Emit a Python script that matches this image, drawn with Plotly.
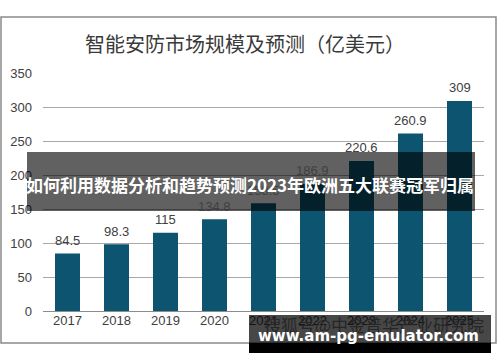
import plotly.graph_objects as go

years = ["2017", "2018", "2019", "2020", "2021", "2022", "2023", "2024", "2025"]
values = [84.5, 98.3, 115, 134.8, 158.5, 186.9, 220.6, 260.9, 309]
value_labels = ["84.5", "98.3", "115", "134.8", "158.5", "186.9", "220.6", "260.9", "309"]
y_ticks = [0, 50, 100, 150, 200, 250, 300, 350]

title_text = "智能安防市场规模及预测（亿美元）"
banner_text = "如何利用数据分析和趋势预测2023年欧洲五大联赛冠军归属"
wm_text1 = "搜狐号@中金普华产业研究院"
wm_text2 = "www.am-pg-emulator.com"

W, H = 500, 362
L, R, T, B = 43, 16, 73, 51
PW, PH = W - L - R, H - T - B


def px(x):
    return (x - L) / PW


def py(y):
    return (H - B - y) / PH


fig = go.Figure()
fig.add_trace(go.Bar(
    x=years, y=values, marker=dict(color="#0c5470", line=dict(width=0)),
    hoverinfo="skip",
))

annotations = []
for i, (v, lab) in enumerate(zip(values, value_labels)):
    annotations.append(dict(
        x=i, y=v, xref="x", yref="y", text=lab, showarrow=False,
        yanchor="middle", yshift=13,
        font=dict(family="Liberation Sans, Arial", size=13, color="#404040"),
    ))

annotations.append(dict(
    x=px(245), y=py(43), xref="paper", yref="paper", text=title_text,
    showarrow=False, xanchor="center", yanchor="middle",
    font=dict(family="Noto Sans CJK SC", size=20, color="#3a3a3a"),
))
annotations.append(dict(
    x=px(250), y=py(184), xref="paper", yref="paper", text="<b>" + banner_text + "</b>",
    showarrow=False, xanchor="center", yanchor="middle",
    font=dict(family="Noto Sans CJK SC", size=17, color="#ffffff"),
))
annotations.append(dict(
    x=px(374), y=py(324), xref="paper", yref="paper", text=wm_text1,
    showarrow=False, xanchor="center", yanchor="middle",
    font=dict(family="Noto Sans CJK SC", size=17, color="#262626"),
))
annotations.append(dict(
    x=px(368), y=py(336), xref="paper", yref="paper", text="<b>" + wm_text2 + "</b>",
    showarrow=False, xanchor="center", yanchor="middle",
    font=dict(family="DejaVu Sans", size=15, color="#ffffff"),
))

shapes = [
    dict(type="rect", xref="paper", yref="paper", x0=px(1), x1=px(496), y0=py(343), y1=py(17),
         line=dict(color="#8a8a8a", width=1.5), fillcolor="rgba(0,0,0,0)", layer="below"),
    dict(type="rect", xref="paper", yref="paper", x0=px(27), x1=px(475), y0=py(211), y1=py(152),
         line=dict(width=0), fillcolor="rgba(0,0,0,0.62)", layer="above"),
    dict(type="rect", xref="paper", yref="paper", x0=px(249), x1=px(491), y0=py(343), y1=py(315),
         line=dict(width=0), fillcolor="rgba(0,0,0,0.72)", layer="above"),
    dict(type="rect", xref="paper", yref="paper", x0=px(249), x1=px(491), y0=py(353), y1=py(343),
         line=dict(width=0), fillcolor="#000000", layer="above"),
]

fig.update_layout(
    width=W, height=H,
    margin=dict(l=L, r=R, t=T, b=B, pad=0, autoexpand=False),
    paper_bgcolor="#ffffff", plot_bgcolor="#ffffff",
    showlegend=False, bargap=0.49,
    annotations=annotations, shapes=shapes,
    xaxis=dict(
        type="category", range=[-0.5, len(years) - 0.5], automargin=False,
        showgrid=False, showline=False, zeroline=False, ticks="",
        tickfont=dict(family="Liberation Sans, Arial", size=13, color="#404040"),
        fixedrange=True,
    ),
    yaxis=dict(
        range=[0, 350], tickvals=y_ticks, showgrid=True, gridcolor="#a8a8a8", gridwidth=1,
        zeroline=True, zerolinecolor="#8c8c8c", zerolinewidth=1, showline=False, ticks="",
        ticklabelstandoff=10, automargin=False,
        tickfont=dict(family="Liberation Sans, Arial", size=13, color="#404040"),
        fixedrange=True,
    ),
)

fig.write_html(
    "out.html",
    config={"displayModeBar": False},
    post_script="document.body.style.margin='0';document.body.style.overflow='hidden';",
)
